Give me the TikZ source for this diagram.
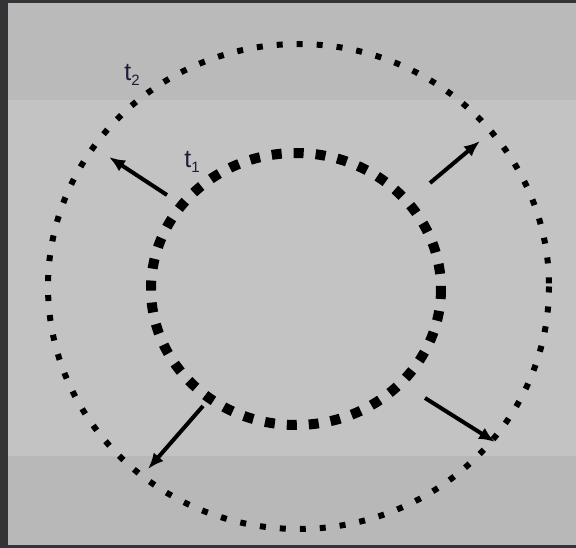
\documentclass[tikz,border=0pt]{standalone}
\usepackage{fontspec}
\setmainfont{Liberation Sans}
\usetikzlibrary{arrows.meta}
\definecolor{bgtop}{RGB}{186,186,186}
\definecolor{bgmid}{RGB}{195,195,195}
\definecolor{bgbot}{RGB}{184,184,184}
\definecolor{frame}{RGB}{52,52,54}
\definecolor{labcol}{RGB}{28,30,56}

\begin{document}
\begin{tikzpicture}[
  x=1pt, y=-1pt,
  arrow/.style={-{Latex[length=16pt,width=13pt]}, line width=4pt},
  outerring/.style={line width=6pt, dash pattern=on 6pt off 14pt},
  innerring/.style={line width=10pt, dash pattern=on 10pt off 12pt},
  lab/.style={font=\fontsize{25}{26}\selectfont, text=labcol, inner sep=0pt}
]
% background bands and dark frame
\useasboundingbox (0,0) rectangle (576,548);
\fill[frame] (0,0) rectangle (576,548);
\fill[bgtop] (8,3) rectangle (576,100);
\fill[bgmid] (8,100) rectangle (576,456);
\fill[bgbot] (8,456) rectangle (576,545);

% the two fronts
\draw[outerring] (298.5,286.5) ellipse [x radius=250.5, y radius=242.5];
\draw[innerring] (296,289) ellipse [x radius=145, y radius=136];

% labels
\node[lab] (t2) at (132,75) {t\raisebox{-0.4ex}{\fontsize{15}{15}\selectfont 2}};
\node[lab] (t1) at (192,162) {t\raisebox{-0.4ex}{\fontsize{15}{15}\selectfont 1}};

% outward arrows
\coordinate (nws) at (167,195); \coordinate (nwe) at (109,157);
\coordinate (nes) at (430,183); \coordinate (nee) at (480,141);
\coordinate (sws) at (203,406); \coordinate (swe) at (148,469);
\coordinate (ses) at (425,398); \coordinate (see) at (495,442);
\draw[arrow] (nws) -- (nwe);
\draw[arrow] (nes) -- (nee);
\draw[arrow] (sws) -- (swe);
\draw[arrow] (ses) -- (see);
\end{tikzpicture}
\end{document}
